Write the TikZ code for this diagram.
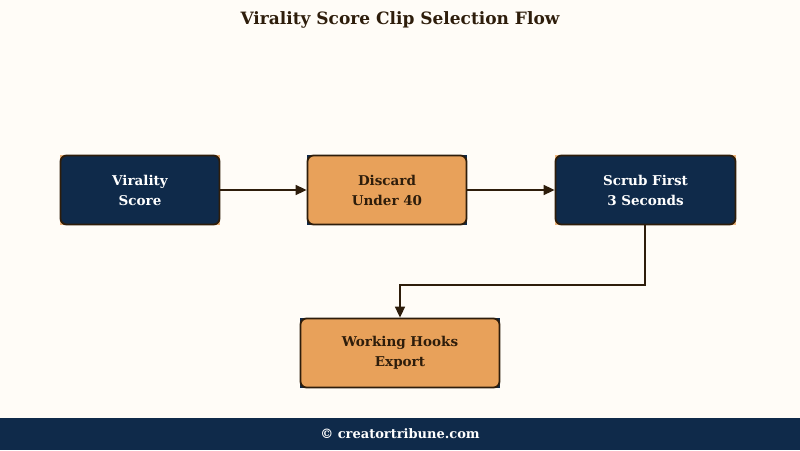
\documentclass[tikz,border=0pt]{standalone}
\usepackage{fontspec}
\setmainfont{DejaVu Serif}
\usetikzlibrary{arrows.meta}
\definecolor{bg}{HTML}{FFFCF7}
\definecolor{navy}{HTML}{0F2A4A}
\definecolor{tan}{HTML}{E8A15A}
\definecolor{ink}{HTML}{2E1D0B}
\begin{document}
\begin{tikzpicture}[x=1pt,y=-1pt,
  box/.style={draw=ink,line width=1.8pt,rounded corners=6pt,minimum height=69pt,align=center,font=\bfseries\fontsize{13.5}{20}\selectfont},
  dark/.style={box,fill=navy,text=white},
  light/.style={box,fill=tan,text=ink},
  arr/.style={draw=ink,line width=1.6pt,-{Triangle[length=11pt,width=10pt]}}]
\fill[bg] (0,0) rectangle (800,450);
\node[font=\bfseries\fontsize{17}{20}\selectfont,text=ink] (title) at (400,20) {Virality Score Clip Selection Flow};
% corner backgrounds
\fill[tan!80] (60,155) rectangle (220,225);
\fill[navy] (307,155) rectangle (467,225);
\fill[tan!80] (555,155) rectangle (736,225);
\fill[navy] (300,318) rectangle (500,388);
\node[dark,minimum width=159pt] (a) at (140,190) {Virality\\Score};
\node[light,minimum width=159pt] (b) at (387,190) {Discard\\Under 40};
\node[dark,minimum width=180pt] (c) at (645.5,190) {Scrub First\\3 Seconds};
\node[light,minimum width=199pt] (d) at (400,353) {Working Hooks\\Export};
\draw[arr] (a) -- (b);
\draw[arr] (b) -- (c);
\coordinate (m1) at (645,285);
\coordinate (m2) at (400,285);
\draw[arr] (c.south -| m1) -- (m1) -- (m2) -- (d.north);
\fill[navy] (0,418) rectangle (800,450);
\node[text=white,font=\bfseries\fontsize{13}{15}\selectfont] (f) at (400,434) {© creatortribune.com};
\end{tikzpicture}
\end{document}
